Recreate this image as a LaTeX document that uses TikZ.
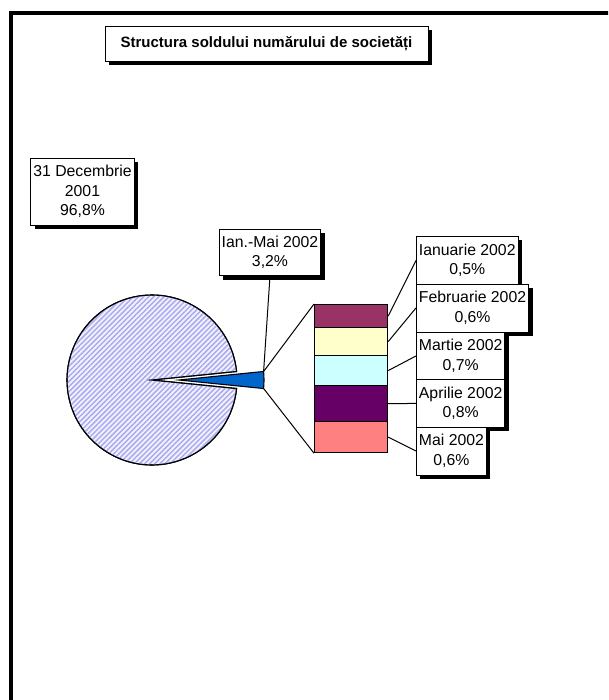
\documentclass[tikz,border=0pt]{standalone}
\usepackage{fontspec}
\setmainfont{Liberation Sans}
\usetikzlibrary{shadows,patterns.meta}
\definecolor{hatch}{RGB}{170,170,238}
\definecolor{pieback}{RGB}{242,242,255}
\definecolor{wedgeblue}{RGB}{0,102,204}
\definecolor{sjan}{RGB}{153,51,102}
\definecolor{sfeb}{RGB}{255,255,204}
\definecolor{smar}{RGB}{204,255,255}
\definecolor{sapr}{RGB}{102,0,102}
\definecolor{smai}{RGB}{255,128,128}
\begin{document}
\begin{tikzpicture}[x=1pt,y=-1pt,
  lbl/.style={draw=black, line width=0.9pt, fill=white, align=center,
    font=\fontsize{15.8}{19.5}\selectfont, inner xsep=2.5pt, inner ysep=0pt,
    drop shadow={shadow xshift=4pt, shadow yshift=-4pt, fill=black, opacity=1}},
  seg/.style={draw=black, line width=1.2pt, minimum width=73pt, inner sep=0pt, anchor=north west},
  conn/.style={draw=black, line width=1pt}]
\useasboundingbox (0,0) rectangle (608,700);
\begin{scope}
\clip (0,0) rectangle (608,700);
\draw[line width=4pt] (10.5,710) -- (10.5,13) -- (620,13);
\end{scope}

% title
\node[lbl, font=\bfseries\fontsize{15}{18}\selectfont, minimum width=323pt, minimum height=35pt] (title) at (266.5,43.5) {Structura soldului numărului de societăți};

% pie
\draw[line width=1.1pt, fill=pieback] (152,380) -- ++(5.76:85pt) arc[start angle=5.76, end angle=354.24, radius=85pt] -- cycle;
\path[pattern={Lines[angle=45,distance=3.6pt,line width=1.5pt]}, pattern color=hatch] (152,380) -- ++(5.76:85pt) arc[start angle=5.76, end angle=354.24, radius=85pt] -- cycle;
\draw[line width=1.1pt] (152,380) -- ++(5.76:85pt) arc[start angle=5.76, end angle=354.24, radius=85pt] -- cycle;
\draw[line width=1.1pt, fill=wedgeblue] (179,380) -- ++(-5.76:85pt) arc[start angle=-5.76, end angle=5.76, radius=85pt] -- cycle;
\coordinate (wtop) at (263.6,371.5);
\coordinate (wbot) at (263.6,388.5);

% stacked bar
\node[seg, fill=sjan, minimum height=23pt] (bjan) at (314,304) {};
\node[seg, fill=sfeb, minimum height=28pt] (bfeb) at (314,327) {};
\node[seg, fill=smar, minimum height=30pt] (bmar) at (314,355) {};
\node[seg, fill=sapr, minimum height=36pt] (bapr) at (314,385) {};
\node[seg, fill=smai, minimum height=31pt] (bmai) at (314,421) {};

\draw[conn] (wtop) -- (bjan.north west);
\draw[conn] (wbot) -- (bmai.south west);

% labels
\node[lbl, minimum width=101pt, minimum height=67pt] (dec) at (82.5,191.5) {31 Decembrie\\2001\\96,8\%};
\node[lbl, minimum width=100pt, minimum height=46pt] (ianmai) at (270,252.5) {Ian.-Mai 2002\\3,2\%};
\draw[conn] (ianmai.south) -- (wtop);

\node[lbl, anchor=north west, minimum height=48pt] (ljan) at (416,236) {Ianuarie 2002\\0,5\%};
\node[lbl, anchor=north west, minimum height=48pt] (lfeb) at (416,283.5) {Februarie 2002\\0,6\%};
\node[lbl, anchor=north west, minimum height=48pt] (lmar) at (416,331.5) {Martie 2002\\0,7\%};
\node[lbl, anchor=north west, minimum height=48pt] (lapr) at (416,379) {Aprilie 2002\\0,8\%};
\node[lbl, anchor=north west, minimum height=48pt] (lmai) at (416,426.5) {Mai 2002\\0,6\%};

\draw[conn] (bjan.east) -- (ljan.west);
\draw[conn] (bfeb.east) -- (lfeb.west);
\draw[conn] (bmar.east) -- (lmar.west);
\draw[conn] (bapr.east) -- (lapr.west);
\draw[conn] (bmai.east) -- (lmai.west);
\end{tikzpicture}
\end{document}
